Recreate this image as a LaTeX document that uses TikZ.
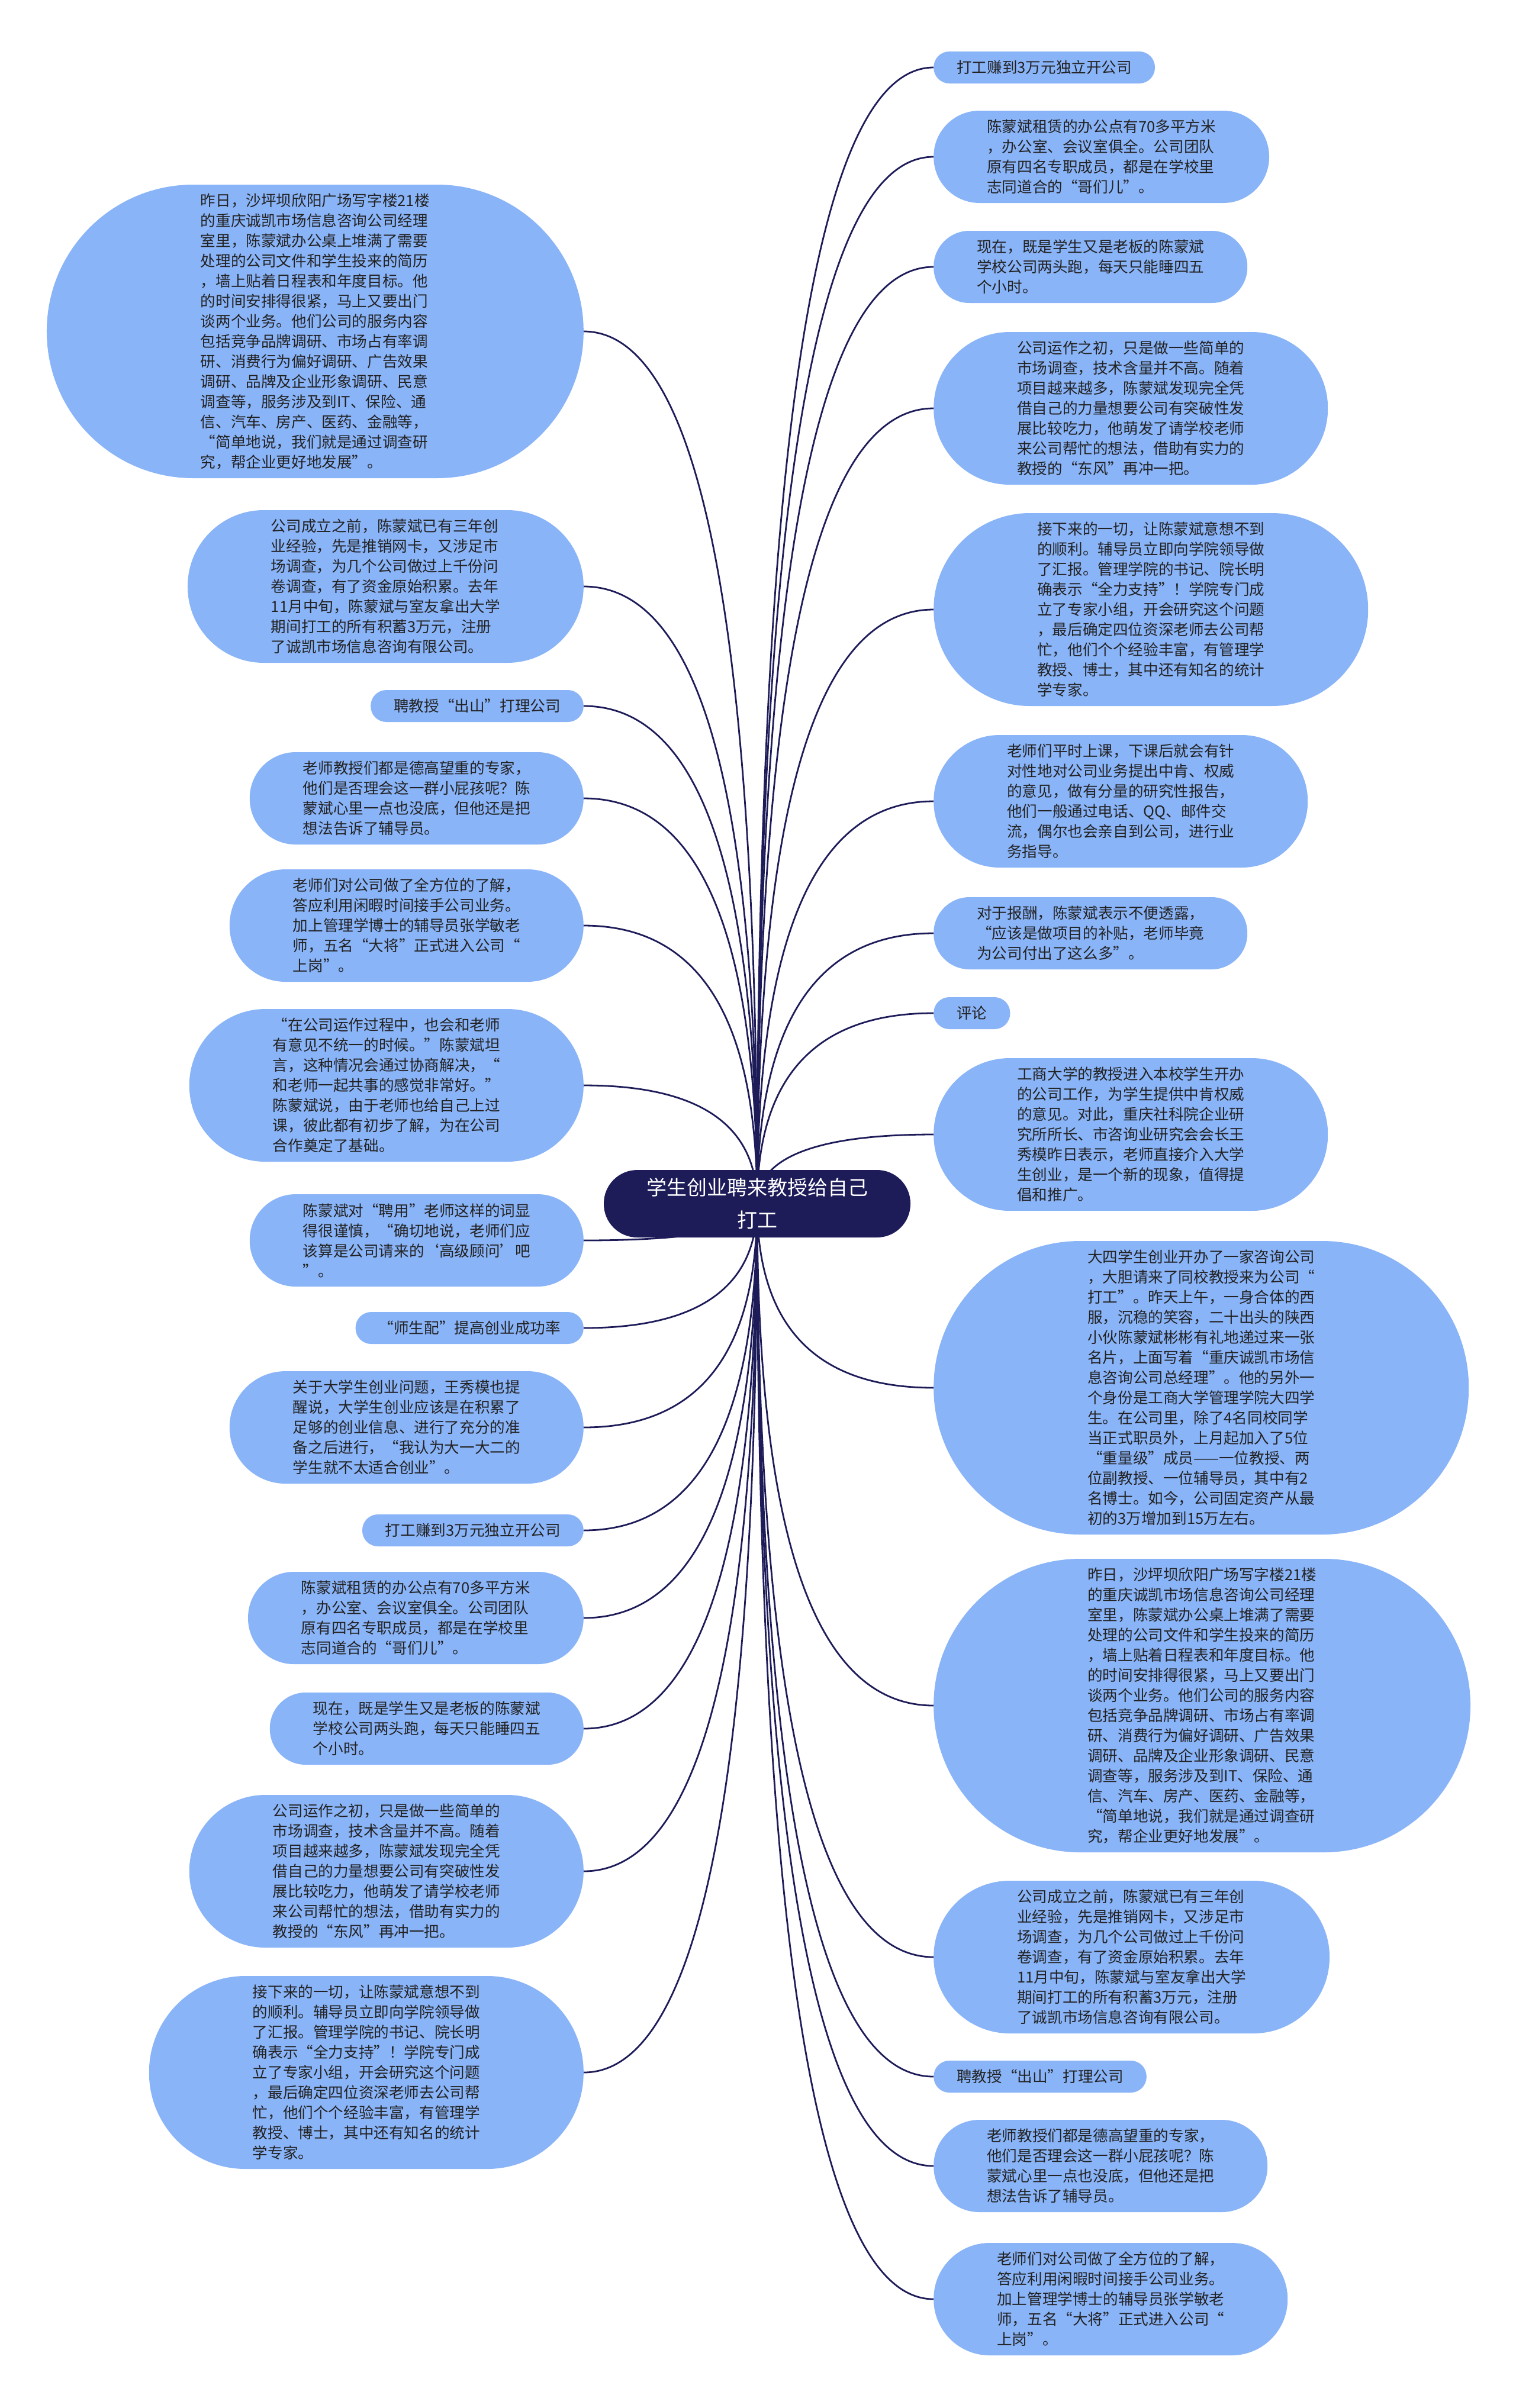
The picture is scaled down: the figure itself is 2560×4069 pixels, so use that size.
\documentclass[tikz,border=0pt]{standalone}
\usepackage{fontspec}
\setmainfont{Noto Sans CJK SC}
\usetikzlibrary{calc, backgrounds}
\definecolor{rootfill}{RGB}{29,27,88}
\definecolor{leaffill}{RGB}{138,180,248}
\definecolor{leaftext}{RGB}{34,34,34}

% curved branch from the root to one leaf
\newcommand{\branch}[2]{%
  \coordinate (bend) at (root.center |- #1.#2);
  \draw[link] (root.center) .. controls ($(root.center)!0.667!(bend)$) and ($(#1.#2)!0.667!(bend)$) .. (#1.#2);}

\begin{document}
\begin{tikzpicture}[x=1pt, y=-1pt,
    root/.style={rectangle, fill=rootfill, text=white, align=center,
      minimum height=114pt, inner ysep=0pt, inner xsep=72pt, rounded corners=56.5pt,
      font=\fontsize{34}{55}\selectfont},
    leaf/.style={rectangle, fill=leaffill, text=leaftext, align=left,
      inner ysep=0pt, minimum height={(#1-1)*34pt+54pt},
      inner xsep={12pt+((#1-1)*34pt+54pt)/2},
      rounded corners={((#1-1)*34pt+54pt)/2-0.5pt},
      font=\fontsize{25.6}{34}\selectfont},
    link/.style={draw=rootfill, line width=2.8pt}]
			\useasboundingbox (0,0) rectangle (2560,4069);
			\def\xr{1577}
			\def\xl{986}

			\node[root] (root) at (1279,2034) {学生创业聘来教授给自己\\打工};

			% Right column
			\node[leaf=1, anchor=west] (r1) at (\xr,114) {打工赚到3万元独立开公司};
			\node[leaf=4, anchor=west] (r2) at (\xr,265) {陈蒙斌租赁的办公点有70多平方米\\，办公室、会议室俱全。公司团队\\原有四名专职成员，都是在学校里\\志同道合的“哥们儿”。};
			\node[leaf=3, anchor=west] (r3) at (\xr,451) {现在，既是学生又是老板的陈蒙斌\\学校公司两头跑，每天只能睡四五\\个小时。};
			\node[leaf=7, anchor=west] (r4) at (\xr,690) {公司运作之初，只是做一些简单的\\市场调查，技术含量并不高。随着\\项目越来越多，陈蒙斌发现完全凭\\借自己的力量想要公司有突破性发\\展比较吃力，他萌发了请学校老师\\来公司帮忙的想法，借助有实力的\\教授的“东风”再冲一把。};
			\node[leaf=9, anchor=west] (r5) at (\xr,1030) {接下来的一切，让陈蒙斌意想不到\\的顺利。辅导员立即向学院领导做\\了汇报。管理学院的书记、院长明\\确表示“全力支持”！学院专门成\\立了专家小组，开会研究这个问题\\，最后确定四位资深老师去公司帮\\忙，他们个个经验丰富，有管理学\\教授、博士，其中还有知名的统计\\学专家。};
			\node[leaf=6, anchor=west] (r6) at (\xr,1354) {老师们平时上课，下课后就会有针\\对性地对公司业务提出中肯、权威\\的意见，做有分量的研究性报告，\\他们一般通过电话、QQ、邮件交\\流，偶尔也会亲自到公司，进行业\\务指导。};
			\node[leaf=3, anchor=west] (r7) at (\xr,1577) {对于报酬，陈蒙斌表示不便透露，\\“应该是做项目的补贴，老师毕竟\\为公司付出了这么多”。};
			\node[leaf=1, anchor=west] (r8) at (\xr,1712) {评论};
			\node[leaf=7, anchor=west] (r9) at (\xr,1917) {工商大学的教授进入本校学生开办\\的公司工作，为学生提供中肯权威\\的意见。对此，重庆社科院企业研\\究所所长、市咨询业研究会会长王\\秀模昨日表示，老师直接介入大学\\生创业，是一个新的现象，值得提\\倡和推广。};
			\node[leaf=14, anchor=west] (r10) at (\xr,2345) {大四学生创业开办了一家咨询公司\\，大胆请来了同校教授来为公司“\\打工”。昨天上午，一身合体的西\\服，沉稳的笑容，二十出头的陕西\\小伙陈蒙斌彬彬有礼地递过来一张\\名片，上面写着“重庆诚凯市场信\\息咨询公司总经理”。他的另外一\\个身份是工商大学管理学院大四学\\生。在公司里，除了4名同校同学\\当正式职员外，上月起加入了5位\\“重量级”成员——一位教授、两\\位副教授、一位辅导员，其中有2\\名博士。如今，公司固定资产从最\\初的3万增加到15万左右。};
			\node[leaf=14, anchor=west] (r11) at (\xr,2882) {昨日，沙坪坝欣阳广场写字楼21楼\\的重庆诚凯市场信息咨询公司经理\\室里，陈蒙斌办公桌上堆满了需要\\处理的公司文件和学生投来的简历\\，墙上贴着日程表和年度目标。他\\的时间安排得很紧，马上又要出门\\谈两个业务。他们公司的服务内容\\包括竞争品牌调研、市场占有率调\\研、消费行为偏好调研、广告效果\\调研、品牌及企业形象调研、民意\\调查等，服务涉及到IT、保险、通\\信、汽车、房产、医药、金融等，\\“简单地说，我们就是通过调查研\\究，帮企业更好地发展”。};
			\node[leaf=7, anchor=west] (r12) at (\xr,3307) {公司成立之前，陈蒙斌已有三年创\\业经验，先是推销网卡，又涉足市\\场调查，为几个公司做过上千份问\\卷调查，有了资金原始积累。去年\\11月中旬，陈蒙斌与室友拿出大学\\期间打工的所有积蓄3万元，注册\\了诚凯市场信息咨询有限公司。};
			\node[leaf=1, anchor=west] (r13) at (\xr,3509) {聘教授“出山”打理公司};
			\node[leaf=4, anchor=west] (r14) at (\xr,3660) {老师教授们都是德高望重的专家，\\他们是否理会这一群小屁孩呢？陈\\蒙斌心里一点也没底，但他还是把\\想法告诉了辅导员。};
			\node[leaf=5, anchor=west] (r15) at (\xr,3885) {老师们对公司做了全方位的了解，\\答应利用闲暇时间接手公司业务。\\加上管理学博士的辅导员张学敏老\\师，五名“大将”正式进入公司“\\上岗”。};

			% Left column
			\node[leaf=14, anchor=east] (l1) at (\xl,560) {昨日，沙坪坝欣阳广场写字楼21楼\\的重庆诚凯市场信息咨询公司经理\\室里，陈蒙斌办公桌上堆满了需要\\处理的公司文件和学生投来的简历\\，墙上贴着日程表和年度目标。他\\的时间安排得很紧，马上又要出门\\谈两个业务。他们公司的服务内容\\包括竞争品牌调研、市场占有率调\\研、消费行为偏好调研、广告效果\\调研、品牌及企业形象调研、民意\\调查等，服务涉及到IT、保险、通\\信、汽车、房产、医药、金融等，\\“简单地说，我们就是通过调查研\\究，帮企业更好地发展”。};
			\node[leaf=7, anchor=east] (l2) at (\xl,991) {公司成立之前，陈蒙斌已有三年创\\业经验，先是推销网卡，又涉足市\\场调查，为几个公司做过上千份问\\卷调查，有了资金原始积累。去年\\11月中旬，陈蒙斌与室友拿出大学\\期间打工的所有积蓄3万元，注册\\了诚凯市场信息咨询有限公司。};
			\node[leaf=1, anchor=east] (l3) at (\xl,1193) {聘教授“出山”打理公司};
			\node[leaf=4, anchor=east] (l4) at (\xl,1349) {老师教授们都是德高望重的专家，\\他们是否理会这一群小屁孩呢？陈\\蒙斌心里一点也没底，但他还是把\\想法告诉了辅导员。};
			\node[leaf=5, anchor=east] (l5) at (\xl,1564) {老师们对公司做了全方位的了解，\\答应利用闲暇时间接手公司业务。\\加上管理学博士的辅导员张学敏老\\师，五名“大将”正式进入公司“\\上岗”。};
			\node[leaf=7, anchor=east] (l6) at (\xl,1834) {“在公司运作过程中，也会和老师\\有意见不统一的时候。”陈蒙斌坦\\言，这种情况会通过协商解决，“\\和老师一起共事的感觉非常好。”\\陈蒙斌说，由于老师也给自己上过\\课，彼此都有初步了解，为在公司\\合作奠定了基础。};
			\node[leaf=4, anchor=east] (l7) at (\xl,2096) {陈蒙斌对“聘用”老师这样的词显\\得很谨慎，“确切地说，老师们应\\该算是公司请来的‘高级顾问’吧\\”。};
			\node[leaf=1, anchor=east] (l8) at (\xl,2244) {“师生配”提高创业成功率};
			\node[leaf=5, anchor=east] (l9) at (\xl,2412) {关于大学生创业问题，王秀模也提\\醒说，大学生创业应该是在积累了\\足够的创业信息、进行了充分的准\\备之后进行，“我认为大一大二的\\学生就不太适合创业”。};
			\node[leaf=1, anchor=east] (l10) at (\xl,2586) {打工赚到3万元独立开公司};
			\node[leaf=4, anchor=east] (l11) at (\xl,2734) {陈蒙斌租赁的办公点有70多平方米\\，办公室、会议室俱全。公司团队\\原有四名专职成员，都是在学校里\\志同道合的“哥们儿”。};
			\node[leaf=3, anchor=east] (l12) at (\xl,2921) {现在，既是学生又是老板的陈蒙斌\\学校公司两头跑，每天只能睡四五\\个小时。};
			\node[leaf=7, anchor=east] (l13) at (\xl,3162) {公司运作之初，只是做一些简单的\\市场调查，技术含量并不高。随着\\项目越来越多，陈蒙斌发现完全凭\\借自己的力量想要公司有突破性发\\展比较吃力，他萌发了请学校老师\\来公司帮忙的想法，借助有实力的\\教授的“东风”再冲一把。};
			\node[leaf=9, anchor=east] (l14) at (\xl,3502) {接下来的一切，让陈蒙斌意想不到\\的顺利。辅导员立即向学院领导做\\了汇报。管理学院的书记、院长明\\确表示“全力支持”！学院专门成\\立了专家小组，开会研究这个问题\\，最后确定四位资深老师去公司帮\\忙，他们个个经验丰富，有管理学\\教授、博士，其中还有知名的统计\\学专家。};

			% Branches, behind the nodes
			\begin{scope}[on background layer]
				\foreach \i in {1,...,15} {\branch{r\i}{west}}
				\foreach \i in {1,...,14} {\branch{l\i}{east}}
			\end{scope}

		\end{tikzpicture}
\end{document}
